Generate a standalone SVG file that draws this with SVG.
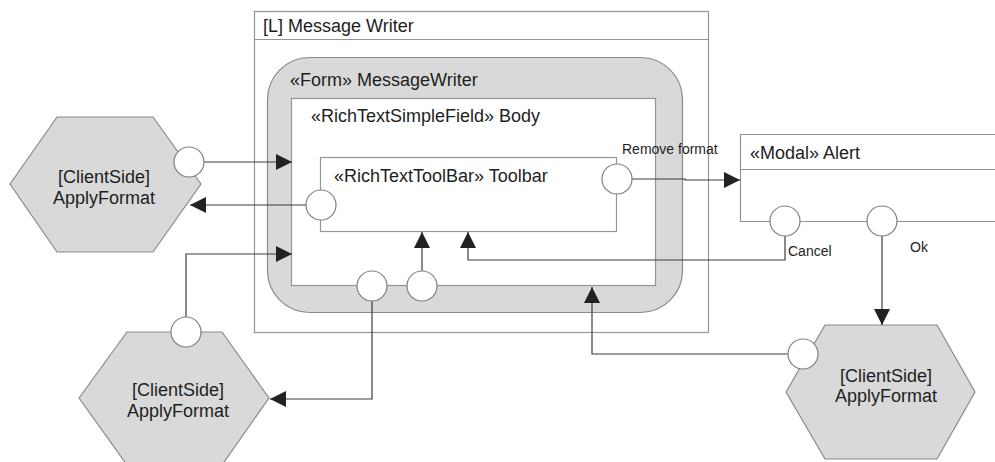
<svg xmlns="http://www.w3.org/2000/svg" width="995" height="462" viewBox="0 0 995 462">
<style>
text{font-family:"Liberation Sans",Arial,sans-serif;font-size:18px;fill:#1e1e1e}
.small{font-size:14px}
.box{fill:#fff;stroke:#959595;stroke-width:1.2}
.form{fill:#d9d9d9;stroke:#8a8a8a;stroke-width:1.2}
.hex{fill:#d9d9d9;stroke:#8a8a8a;stroke-width:1.2}
.port{fill:#fff;stroke:#808080;stroke-width:1.2}
.conn{fill:none;stroke:#3c3c3c;stroke-width:1.2}
.mid{text-anchor:middle}
</style>
<defs>
<marker id="arr" markerUnits="userSpaceOnUse" markerWidth="16" markerHeight="16" refX="16" refY="8" orient="auto">
<path d="M0,0 L16,8 L0,16 z" fill="#222"/>
</marker>
</defs>
<rect width="995" height="462" fill="#fff"/>
<g id="messageWriterLayout">
<rect class="box" x="254.5" y="11.5" width="454" height="321"/>
<line x1="254.5" y1="39.5" x2="708.5" y2="39.5" stroke="#959595" stroke-width="1.2"/>
<text x="263" y="32">[L] Message Writer</text>
</g>
<g id="formMessageWriter">
<rect class="form" x="267.5" y="57.5" width="415" height="255" rx="42"/>
<text x="290" y="86">«Form» MessageWriter</text>
</g>
<g id="body">
<rect class="box" x="291.5" y="98.5" width="364" height="187"/>
<text x="311" y="122">«RichTextSimpleField» Body</text>
</g>
<g id="toolbar">
<rect class="box" x="320.5" y="157.5" width="296" height="74"/>
<text x="334" y="182">«RichTextToolBar» Toolbar</text>
</g>
<g id="alert">
<path class="box" d="M996,134.5 H740.5 V221.5 H996" />
<line x1="740.5" y1="169.5" x2="996" y2="169.5" stroke="#959595" stroke-width="1.2"/>
<text x="750" y="159">«Modal» Alert</text>
</g>
<g id="applyFormatLeft">
<polygon class="hex" points="10,184 57,117 153,117 201,184 153,252 57,252"/>
<text class="mid" x="104" y="183">[ClientSide]</text>
<text class="mid" x="104" y="204">ApplyFormat</text>
</g>
<g id="applyFormatBottom">
<polygon class="hex" points="79,398 127,332 222,332 269,398 222,465 127,465"/>
<text class="mid" x="178" y="396">[ClientSide]</text>
<text class="mid" x="178" y="417">ApplyFormat</text>
</g>
<g id="applyFormatRight">
<polygon class="hex" points="786,392 825,325 937,325 975,392 937,459 825,459"/>
<text class="mid" x="886" y="382">[ClientSide]</text>
<text class="mid" x="886" y="402">ApplyFormat</text>
</g>
<g id="connectors">
<path class="conn" d="M204,162 H292" marker-end="url(#arr)"/>
<path class="conn" d="M306,205 H190" marker-end="url(#arr)"/>
<path class="conn" d="M186,317 V254 H292" marker-end="url(#arr)"/>
<path class="conn" d="M372,301 V399 H270" marker-end="url(#arr)"/>
<path class="conn" d="M422,271 V232" marker-end="url(#arr)"/>
<path class="conn" d="M785,236 V260 H468 V232" marker-end="url(#arr)"/>
<path class="conn" d="M632,179 H685 V180 H740" marker-end="url(#arr)"/>
<path class="conn" d="M882,236 V325" marker-end="url(#arr)"/>
<path class="conn" d="M788,354 H592 V287" marker-end="url(#arr)"/>
</g>
<g id="labels">
<text class="small" x="622" y="154">Remove format</text>
<text class="small" x="788" y="256">Cancel</text>
<text class="small" x="910" y="252">Ok</text>
</g>
<g id="ports">
<circle class="port" cx="189" cy="162" r="15"/>
<circle class="port" cx="321" cy="205" r="15"/>
<circle class="port" cx="617" cy="179" r="15"/>
<circle class="port" cx="372" cy="286" r="15"/>
<circle class="port" cx="422" cy="286" r="15"/>
<circle class="port" cx="186" cy="332" r="15"/>
<circle class="port" cx="785" cy="221" r="15"/>
<circle class="port" cx="882" cy="221" r="15"/>
<circle class="port" cx="803" cy="354" r="15"/>
</g>
</svg>
